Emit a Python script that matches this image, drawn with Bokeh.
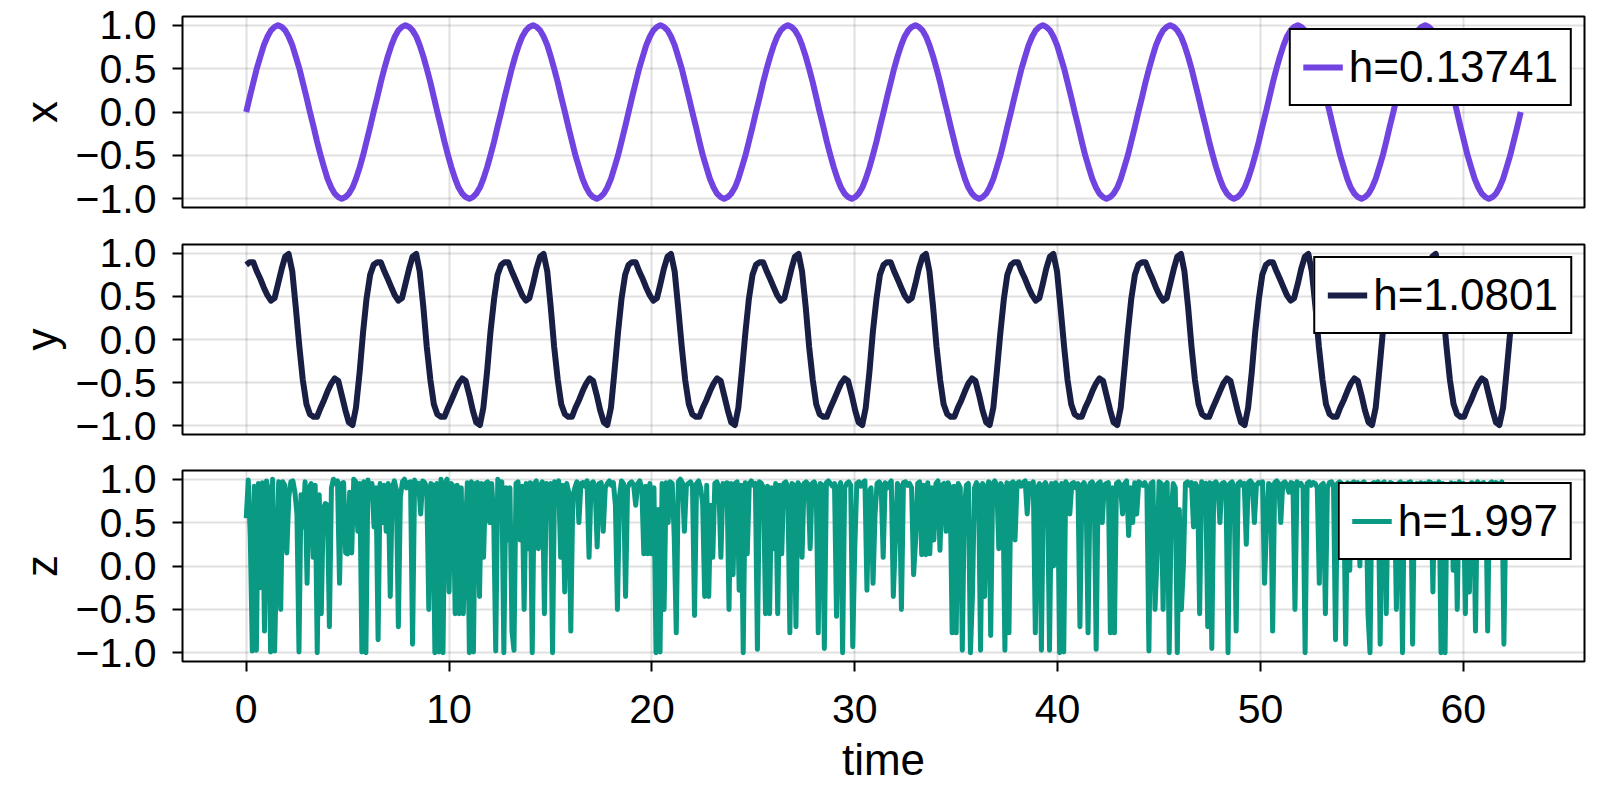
from bokeh.plotting import figure
from bokeh.layouts import column
from bokeh.models import Range1d, FixedTicker, CustomJSTickFormatter, Legend, LegendItem
from bokeh.embed import file_html
from bokeh.resources import INLINE

# ---------------- data ----------------
time = [
    0.0, 0.17, 0.35, 0.52, 0.7, 0.87, 1.05, 1.22, 1.4, 1.57, 1.75, 1.92, 2.09, 2.27, 2.44, 2.62, 2.79, 2.97,
    3.14, 3.32, 3.49, 3.67, 3.84, 4.01, 4.19, 4.36, 4.54, 4.71, 4.89, 5.06, 5.24, 5.41, 5.59, 5.76, 5.93, 6.11,
    6.28, 6.46, 6.63, 6.81, 6.98, 7.16, 7.33, 7.5, 7.68, 7.85, 8.03, 8.2, 8.38, 8.55, 8.73, 8.9, 9.08, 9.25,
    9.42, 9.6, 9.77, 9.95, 10.12, 10.3, 10.47, 10.65, 10.82, 11.0, 11.17, 11.34, 11.52, 11.69, 11.87, 12.04, 12.22, 12.39,
    12.57, 12.74, 12.92, 13.09, 13.26, 13.44, 13.61, 13.79, 13.96, 14.14, 14.31, 14.49, 14.66, 14.84, 15.01, 15.18, 15.36, 15.53,
    15.71, 15.88, 16.06, 16.23, 16.41, 16.58, 16.76, 16.93, 17.1, 17.28, 17.45, 17.63, 17.8, 17.98, 18.15, 18.33, 18.5, 18.68,
    18.85, 19.02, 19.2, 19.37, 19.55, 19.72, 19.9, 20.07, 20.25, 20.42, 20.59, 20.77, 20.94, 21.12, 21.29, 21.47, 21.64, 21.82,
    21.99, 22.17, 22.34, 22.51, 22.69, 22.86, 23.04, 23.21, 23.39, 23.56, 23.74, 23.91, 24.09, 24.26, 24.43, 24.61, 24.78, 24.96,
    25.13, 25.31, 25.48, 25.66, 25.83, 26.01, 26.18, 26.35, 26.53, 26.7, 26.88, 27.05, 27.23, 27.4, 27.58, 27.75, 27.93, 28.1,
    28.27, 28.45, 28.62, 28.8, 28.97, 29.15, 29.32, 29.5, 29.67, 29.85, 30.02, 30.19, 30.37, 30.54, 30.72, 30.89, 31.07, 31.24,
    31.42, 31.59, 31.77, 31.94, 32.11, 32.29, 32.46, 32.64, 32.81, 32.99, 33.16, 33.34, 33.51, 33.68, 33.86, 34.03, 34.21, 34.38,
    34.56, 34.73, 34.91, 35.08, 35.26, 35.43, 35.6, 35.78, 35.95, 36.13, 36.3, 36.48, 36.65, 36.83, 37.0, 37.18, 37.35, 37.52,
    37.7, 37.87, 38.05, 38.22, 38.4, 38.57, 38.75, 38.92, 39.1, 39.27, 39.44, 39.62, 39.79, 39.97, 40.14, 40.32, 40.49, 40.67,
    40.84, 41.02, 41.19, 41.36, 41.54, 41.71, 41.89, 42.06, 42.24, 42.41, 42.59, 42.76, 42.94, 43.11, 43.28, 43.46, 43.63, 43.81,
    43.98, 44.16, 44.33, 44.51, 44.68, 44.85, 45.03, 45.2, 45.38, 45.55, 45.73, 45.9, 46.08, 46.25, 46.43, 46.6, 46.77, 46.95,
    47.12, 47.3, 47.47, 47.65, 47.82, 48.0, 48.17, 48.35, 48.52, 48.69, 48.87, 49.04, 49.22, 49.39, 49.57, 49.74, 49.92, 50.09,
    50.27, 50.44, 50.61, 50.79, 50.96, 51.14, 51.31, 51.49, 51.66, 51.84, 52.01, 52.19, 52.36, 52.53, 52.71, 52.88, 53.06, 53.23,
    53.41, 53.58, 53.76, 53.93, 54.11, 54.28, 54.45, 54.63, 54.8, 54.98, 55.15, 55.33, 55.5, 55.68, 55.85, 56.03, 56.2, 56.37,
    56.55, 56.72, 56.9, 57.07, 57.25, 57.42, 57.6, 57.77, 57.94, 58.12, 58.29, 58.47, 58.64, 58.82, 58.99, 59.17, 59.34, 59.52,
    59.69, 59.86, 60.04, 60.21, 60.39, 60.56, 60.74, 60.91, 61.09, 61.26, 61.44, 61.61, 61.78, 61.96, 62.13, 62.31, 62.48, 62.66,
    62.83,
]

x_values = [
    0.0, 0.17, 0.34, 0.5, 0.64, 0.77, 0.87, 0.94, 0.98, 1.0, 0.98, 0.94, 0.87, 0.77, 0.64, 0.5, 0.34, 0.17,
    0.0, -0.17, -0.34, -0.5, -0.64, -0.77, -0.87, -0.94, -0.98, -1.0, -0.98, -0.94, -0.87, -0.77, -0.64, -0.5, -0.34, -0.17,
    0.0, 0.17, 0.34, 0.5, 0.64, 0.77, 0.87, 0.94, 0.98, 1.0, 0.98, 0.94, 0.87, 0.77, 0.64, 0.5, 0.34, 0.17,
    0.0, -0.17, -0.34, -0.5, -0.64, -0.77, -0.87, -0.94, -0.98, -1.0, -0.98, -0.94, -0.87, -0.77, -0.64, -0.5, -0.34, -0.17,
    0.0, 0.17, 0.34, 0.5, 0.64, 0.77, 0.87, 0.94, 0.98, 1.0, 0.98, 0.94, 0.87, 0.77, 0.64, 0.5, 0.34, 0.17,
    0.0, -0.17, -0.34, -0.5, -0.64, -0.77, -0.87, -0.94, -0.98, -1.0, -0.98, -0.94, -0.87, -0.77, -0.64, -0.5, -0.34, -0.17,
    0.0, 0.17, 0.34, 0.5, 0.64, 0.77, 0.87, 0.94, 0.98, 1.0, 0.98, 0.94, 0.87, 0.77, 0.64, 0.5, 0.34, 0.17,
    0.0, -0.17, -0.34, -0.5, -0.64, -0.77, -0.87, -0.94, -0.98, -1.0, -0.98, -0.94, -0.87, -0.77, -0.64, -0.5, -0.34, -0.17,
    0.0, 0.17, 0.34, 0.5, 0.64, 0.77, 0.87, 0.94, 0.98, 1.0, 0.98, 0.94, 0.87, 0.77, 0.64, 0.5, 0.34, 0.17,
    0.0, -0.17, -0.34, -0.5, -0.64, -0.77, -0.87, -0.94, -0.98, -1.0, -0.98, -0.94, -0.87, -0.77, -0.64, -0.5, -0.34, -0.17,
    0.0, 0.17, 0.34, 0.5, 0.64, 0.77, 0.87, 0.94, 0.98, 1.0, 0.98, 0.94, 0.87, 0.77, 0.64, 0.5, 0.34, 0.17,
    0.0, -0.17, -0.34, -0.5, -0.64, -0.77, -0.87, -0.94, -0.98, -1.0, -0.98, -0.94, -0.87, -0.77, -0.64, -0.5, -0.34, -0.17,
    0.0, 0.17, 0.34, 0.5, 0.64, 0.77, 0.87, 0.94, 0.98, 1.0, 0.98, 0.94, 0.87, 0.77, 0.64, 0.5, 0.34, 0.17,
    0.0, -0.17, -0.34, -0.5, -0.64, -0.77, -0.87, -0.94, -0.98, -1.0, -0.98, -0.94, -0.87, -0.77, -0.64, -0.5, -0.34, -0.17,
    0.0, 0.17, 0.34, 0.5, 0.64, 0.77, 0.87, 0.94, 0.98, 1.0, 0.98, 0.94, 0.87, 0.77, 0.64, 0.5, 0.34, 0.17,
    0.0, -0.17, -0.34, -0.5, -0.64, -0.77, -0.87, -0.94, -0.98, -1.0, -0.98, -0.94, -0.87, -0.77, -0.64, -0.5, -0.34, -0.17,
    0.0, 0.17, 0.34, 0.5, 0.64, 0.77, 0.87, 0.94, 0.98, 1.0, 0.98, 0.94, 0.87, 0.77, 0.64, 0.5, 0.34, 0.17,
    0.0, -0.17, -0.34, -0.5, -0.64, -0.77, -0.87, -0.94, -0.98, -1.0, -0.98, -0.94, -0.87, -0.77, -0.64, -0.5, -0.34, -0.17,
    0.0, 0.17, 0.34, 0.5, 0.64, 0.77, 0.87, 0.94, 0.98, 1.0, 0.98, 0.94, 0.87, 0.77, 0.64, 0.5, 0.34, 0.17,
    0.0, -0.17, -0.34, -0.5, -0.64, -0.77, -0.87, -0.94, -0.98, -1.0, -0.98, -0.94, -0.87, -0.77, -0.64, -0.5, -0.34, -0.17,
    0.0,
]

y_values = [
    0.865, 0.895, 0.895, 0.79, 0.7, 0.6, 0.51, 0.45, 0.48, 0.645, 0.82, 0.96, 0.99, 0.79, 0.38, -0.085, -0.47, -0.75,
    -0.865, -0.895, -0.895, -0.79, -0.7, -0.6, -0.51, -0.45, -0.48, -0.645, -0.82, -0.96, -0.99, -0.79, -0.38, 0.085, 0.47, 0.75,
    0.865, 0.895, 0.895, 0.79, 0.7, 0.6, 0.51, 0.45, 0.48, 0.645, 0.82, 0.96, 0.99, 0.79, 0.38, -0.085, -0.47, -0.75,
    -0.865, -0.895, -0.895, -0.79, -0.7, -0.6, -0.51, -0.45, -0.48, -0.645, -0.82, -0.96, -0.99, -0.79, -0.38, 0.085, 0.47, 0.75,
    0.865, 0.895, 0.895, 0.79, 0.7, 0.6, 0.51, 0.45, 0.48, 0.645, 0.82, 0.96, 0.99, 0.79, 0.38, -0.085, -0.47, -0.75,
    -0.865, -0.895, -0.895, -0.79, -0.7, -0.6, -0.51, -0.45, -0.48, -0.645, -0.82, -0.96, -0.99, -0.79, -0.38, 0.085, 0.47, 0.75,
    0.865, 0.895, 0.895, 0.79, 0.7, 0.6, 0.51, 0.45, 0.48, 0.645, 0.82, 0.96, 0.99, 0.79, 0.38, -0.085, -0.47, -0.75,
    -0.865, -0.895, -0.895, -0.79, -0.7, -0.6, -0.51, -0.45, -0.48, -0.645, -0.82, -0.96, -0.99, -0.79, -0.38, 0.085, 0.47, 0.75,
    0.865, 0.895, 0.895, 0.79, 0.7, 0.6, 0.51, 0.45, 0.48, 0.645, 0.82, 0.96, 0.99, 0.79, 0.38, -0.085, -0.47, -0.75,
    -0.865, -0.895, -0.895, -0.79, -0.7, -0.6, -0.51, -0.45, -0.48, -0.645, -0.82, -0.96, -0.99, -0.79, -0.38, 0.085, 0.47, 0.75,
    0.865, 0.895, 0.895, 0.79, 0.7, 0.6, 0.51, 0.45, 0.48, 0.645, 0.82, 0.96, 0.99, 0.79, 0.38, -0.085, -0.47, -0.75,
    -0.865, -0.895, -0.895, -0.79, -0.7, -0.6, -0.51, -0.45, -0.48, -0.645, -0.82, -0.96, -0.99, -0.79, -0.38, 0.085, 0.47, 0.75,
    0.865, 0.895, 0.895, 0.79, 0.7, 0.6, 0.51, 0.45, 0.48, 0.645, 0.82, 0.96, 0.99, 0.79, 0.38, -0.085, -0.47, -0.75,
    -0.865, -0.895, -0.895, -0.79, -0.7, -0.6, -0.51, -0.45, -0.48, -0.645, -0.82, -0.96, -0.99, -0.79, -0.38, 0.085, 0.47, 0.75,
    0.865, 0.895, 0.895, 0.79, 0.7, 0.6, 0.51, 0.45, 0.48, 0.645, 0.82, 0.96, 0.99, 0.79, 0.38, -0.085, -0.47, -0.75,
    -0.865, -0.895, -0.895, -0.79, -0.7, -0.6, -0.51, -0.45, -0.48, -0.645, -0.82, -0.96, -0.99, -0.79, -0.38, 0.085, 0.47, 0.75,
    0.865, 0.895, 0.895, 0.79, 0.7, 0.6, 0.51, 0.45, 0.48, 0.645, 0.82, 0.96, 0.99, 0.79, 0.38, -0.085, -0.47, -0.75,
    -0.865, -0.895, -0.895, -0.79, -0.7, -0.6, -0.51, -0.45, -0.48, -0.645, -0.82, -0.96, -0.99, -0.79, -0.38, 0.085, 0.47, 0.75,
    0.865, 0.895, 0.895, 0.79, 0.7, 0.6, 0.51, 0.45, 0.48, 0.645, 0.82, 0.96, 0.99, 0.79, 0.38, -0.085, -0.47, -0.75,
    -0.865, -0.895, -0.895, -0.79, -0.7, -0.6, -0.51, -0.45, -0.48, -0.645, -0.82, -0.96, -0.99, -0.79, -0.38, 0.085, 0.47, 0.75,
    0.865,
]

z_time = [
    0.0, 0.1, 0.2, 0.3, 0.4, 0.5, 0.6, 0.7, 0.8, 0.9, 1.0, 1.1, 1.2, 1.3, 1.4, 1.5, 1.6, 1.7, 1.8, 1.9,
    2.0, 2.1, 2.2, 2.3, 2.4, 2.5, 2.6, 2.7, 2.8, 2.9, 3.0, 3.1, 3.2, 3.3, 3.4, 3.5, 3.6, 3.7, 3.8, 3.9,
    4.0, 4.1, 4.2, 4.3, 4.4, 4.5, 4.6, 4.7, 4.8, 4.9, 5.0, 5.1, 5.2, 5.3, 5.4, 5.5, 5.6, 5.7, 5.8, 5.9,
    6.0, 6.1, 6.2, 6.3, 6.4, 6.5, 6.6, 6.7, 6.8, 6.9, 7.0, 7.1, 7.2, 7.3, 7.4, 7.5, 7.6, 7.7, 7.8, 7.9,
    8.0, 8.1, 8.2, 8.3, 8.4, 8.5, 8.6, 8.7, 8.8, 8.9, 9.0, 9.1, 9.2, 9.3, 9.4, 9.5, 9.6, 9.7, 9.8, 9.9,
    10.0, 10.1, 10.2, 10.3, 10.4, 10.5, 10.6, 10.7, 10.8, 10.9, 11.0, 11.1, 11.2, 11.3, 11.4, 11.5, 11.6, 11.7, 11.8, 11.9,
    12.0, 12.1, 12.2, 12.3, 12.4, 12.5, 12.6, 12.7, 12.8, 12.9, 13.0, 13.1, 13.2, 13.3, 13.4, 13.5, 13.6, 13.7, 13.8, 13.9,
    14.0, 14.1, 14.2, 14.3, 14.4, 14.5, 14.6, 14.7, 14.8, 14.9, 15.0, 15.1, 15.2, 15.3, 15.4, 15.5, 15.6, 15.7, 15.8, 15.9,
    16.0, 16.1, 16.2, 16.3, 16.4, 16.5, 16.6, 16.7, 16.8, 16.9, 17.0, 17.1, 17.2, 17.3, 17.4, 17.5, 17.6, 17.7, 17.8, 17.9,
    18.0, 18.1, 18.2, 18.3, 18.4, 18.5, 18.6, 18.7, 18.8, 18.9, 19.0, 19.1, 19.2, 19.3, 19.4, 19.5, 19.6, 19.7, 19.8, 19.9,
    20.0, 20.1, 20.2, 20.3, 20.4, 20.5, 20.6, 20.7, 20.8, 20.9, 21.0, 21.1, 21.2, 21.3, 21.4, 21.5, 21.6, 21.7, 21.8, 21.9,
    22.0, 22.1, 22.2, 22.3, 22.4, 22.5, 22.6, 22.7, 22.8, 22.9, 23.0, 23.1, 23.2, 23.3, 23.4, 23.5, 23.6, 23.7, 23.8, 23.9,
    24.0, 24.1, 24.2, 24.3, 24.4, 24.5, 24.6, 24.7, 24.8, 24.9, 25.0, 25.1, 25.2, 25.3, 25.4, 25.5, 25.6, 25.7, 25.8, 25.9,
    26.0, 26.1, 26.2, 26.3, 26.4, 26.5, 26.6, 26.7, 26.8, 26.9, 27.0, 27.1, 27.2, 27.3, 27.4, 27.5, 27.6, 27.7, 27.8, 27.9,
    28.0, 28.1, 28.2, 28.3, 28.4, 28.5, 28.6, 28.7, 28.8, 28.9, 29.0, 29.1, 29.2, 29.3, 29.4, 29.5, 29.6, 29.7, 29.8, 29.9,
    30.0, 30.1, 30.2, 30.3, 30.4, 30.5, 30.6, 30.7, 30.8, 30.9, 31.0, 31.1, 31.2, 31.3, 31.4, 31.5, 31.6, 31.7, 31.8, 31.9,
    32.0, 32.1, 32.2, 32.3, 32.4, 32.5, 32.6, 32.7, 32.8, 32.9, 33.0, 33.1, 33.2, 33.3, 33.4, 33.5, 33.6, 33.7, 33.8, 33.9,
    34.0, 34.1, 34.2, 34.3, 34.4, 34.5, 34.6, 34.7, 34.8, 34.9, 35.0, 35.1, 35.2, 35.3, 35.4, 35.5, 35.6, 35.7, 35.8, 35.9,
    36.0, 36.1, 36.2, 36.3, 36.4, 36.5, 36.6, 36.7, 36.8, 36.9, 37.0, 37.1, 37.2, 37.3, 37.4, 37.5, 37.6, 37.7, 37.8, 37.9,
    38.0, 38.1, 38.2, 38.3, 38.4, 38.5, 38.6, 38.7, 38.8, 38.9, 39.0, 39.1, 39.2, 39.3, 39.4, 39.5, 39.6, 39.7, 39.8, 39.9,
    40.0, 40.1, 40.2, 40.3, 40.4, 40.5, 40.6, 40.7, 40.8, 40.9, 41.0, 41.1, 41.2, 41.3, 41.4, 41.5, 41.6, 41.7, 41.8, 41.9,
    42.0, 42.1, 42.2, 42.3, 42.4, 42.5, 42.6, 42.7, 42.8, 42.9, 43.0, 43.1, 43.2, 43.3, 43.4, 43.5, 43.6, 43.7, 43.8, 43.9,
    44.0, 44.1, 44.2, 44.3, 44.4, 44.5, 44.6, 44.7, 44.8, 44.9, 45.0, 45.1, 45.2, 45.3, 45.4, 45.5, 45.6, 45.7, 45.8, 45.9,
    46.0, 46.1, 46.2, 46.3, 46.4, 46.5, 46.6, 46.7, 46.8, 46.9, 47.0, 47.1, 47.2, 47.3, 47.4, 47.5, 47.6, 47.7, 47.8, 47.9,
    48.0, 48.1, 48.2, 48.3, 48.4, 48.5, 48.6, 48.7, 48.8, 48.9, 49.0, 49.1, 49.2, 49.3, 49.4, 49.5, 49.6, 49.7, 49.8, 49.9,
    50.0, 50.1, 50.2, 50.3, 50.4, 50.5, 50.6, 50.7, 50.8, 50.9, 51.0, 51.1, 51.2, 51.3, 51.4, 51.5, 51.6, 51.7, 51.8, 51.9,
    52.0, 52.1, 52.2, 52.3, 52.4, 52.5, 52.6, 52.7, 52.8, 52.9, 53.0, 53.1, 53.2, 53.3, 53.4, 53.5, 53.6, 53.7, 53.8, 53.9,
    54.0, 54.1, 54.2, 54.3, 54.4, 54.5, 54.6, 54.7, 54.8, 54.9, 55.0, 55.1, 55.2, 55.3, 55.4, 55.5, 55.6, 55.7, 55.8, 55.9,
    56.0, 56.1, 56.2, 56.3, 56.4, 56.5, 56.6, 56.7, 56.8, 56.9, 57.0, 57.1, 57.2, 57.3, 57.4, 57.5, 57.6, 57.7, 57.8, 57.9,
    58.0, 58.1, 58.2, 58.3, 58.4, 58.5, 58.6, 58.7, 58.8, 58.9, 59.0, 59.1, 59.2, 59.3, 59.4, 59.5, 59.6, 59.7, 59.8, 59.9,
    60.0, 60.1, 60.2, 60.3, 60.4, 60.5, 60.6, 60.7, 60.8, 60.9, 61.0, 61.1, 61.2, 61.3, 61.4, 61.5, 61.6, 61.7, 61.8, 61.9,
    62.0, 62.1,
]

z_values = [
    0.55, 0.99, 0.33, -0.98, 0.92, -0.97, 0.95, -0.25, 0.96, -0.75,
    0.98, 0.85, -0.99, 1.0, -0.98, 0.1, 0.97, -0.5, 0.97, 0.93,
    0.15, 0.8, 0.97, 0.98, 0.85, 0.6, -0.99, 0.82, 0.45, 0.97,
    -0.2, 0.9, 0.95, 0.1, 0.93, -1.0, 0.82, -0.55, 0.66, 0.72,
    0.7, -0.7, 0.9, 1.0, 0.95, 0.98, -0.2, 0.95, 0.96, 0.15,
    0.14, 0.85, 0.15, 1.0, 0.97, 0.4, 0.95, -0.99, 0.97, -1.0,
    0.99, 0.8, 0.95, 0.45, 0.9, -0.85, 0.95, 0.5, 0.93, 0.4,
    0.95, -0.35, 0.9, 0.98, 0.88, -0.7, 0.8, 0.97, 1.0, 0.9,
    0.96, 0.97, -0.9, 0.99, 0.93, 0.95, 0.6, 0.98, 0.96, 0.9,
    -0.5, 0.95, 0.93, -1.0, 0.95, -0.99, 1.0, -1.0, 0.95, 1.0,
    -0.3, 0.95, 0.92, -0.55, 0.93, -0.55, 0.9, -0.55, 0.35, 0.96,
    -1.0, 0.97, -0.99, 0.95, 0.96, -0.35, 0.95, 0.1, 0.95, 0.97,
    0.5, 0.95, 0.55, -0.98, 1.0, 0.93, 0.97, -1.0, 0.9, 0.3,
    0.9, -0.75, -0.97, 0.95, 0.97, 0.3, 0.92, -0.5, 0.95, 0.2,
    0.96, -1.0, 0.95, 0.98, 0.2, 0.93, 0.97, -0.55, 0.95, 0.9,
    0.95, -1.0, 0.97, 0.9, 0.98, 0.1, 0.93, -0.3, 0.95, 0.85,
    -0.75, 0.8, 0.9, 0.97, 0.5, 0.95, 0.96, 0.92, 0.98, 0.1,
    0.95, 0.97, 0.92, 0.22, 0.95, 0.96, 0.4, 0.9, 0.95, 0.98,
    0.93, 0.96, 0.7, -0.5, 0.8, 0.98, 0.95, -0.35, 0.9, 0.95,
    0.97, 0.93, 0.7, 0.95, 0.98, 0.9, 0.14, 0.92, 0.14, 0.95,
    0.14, 0.9, -1.0, 0.65, -0.99, 0.95, -0.5, 0.96, 0.5, 0.97,
    0.95, 0.33, -0.77, 0.97, 1.0, 0.96, 0.4, 0.93, 0.95, 0.97,
    0.92, -0.57, 0.95, 0.98, 0.9, 0.72, -0.35, 0.93, -0.35, 0.7,
    0.1, 0.95, 0.97, 0.9, 0.1, 0.95, 0.7, 0.96, -0.5, 0.95,
    -0.1, 0.95, 0.97, -0.28, 0.93, -1.0, 0.96, 0.14, 0.95, 0.98,
    0.93, 0.95, -0.96, 0.97, 0.95, 0.9, -0.55, 0.92, -0.55, 0.9,
    0.2, 0.95, -0.55, 0.93, 0.14, 0.95, 0.97, 0.9, -0.77, 0.95,
    0.93, -0.7, 0.96, 0.92, 0.1, 0.95, 0.97, 0.94, 0.2, 0.95,
    0.97, 0.9, -0.77, 0.95, 0.93, -0.95, 0.96, 0.98, 0.95, 0.92,
    0.95, -0.58, 0.9, 0.96, -1.0, 0.9, 0.95, 0.97, 0.93, -0.93,
    0.2, 0.95, 0.97, 0.92, 0.96, 0.98, -0.28, 0.85, 0.9, -0.2,
    0.6, 0.95, 0.97, 0.93, 0.1, 0.96, 0.9, 0.95, 0.98, -0.35,
    0.3, 0.95, 0.92, -0.5, 0.96, 0.97, 0.93, 0.95, 0.9, -0.1,
    0.3, 0.95, 0.97, 0.13, 0.93, 0.13, 0.96, 0.14, 0.9, 0.3,
    0.95, 0.98, 0.18, 0.93, 0.95, 0.4, 0.96, 0.9, -0.77, 0.92,
    -0.77, 0.95, 0.9, -0.97, 0.65, 0.93, 0.95, -1.0, -0.35, 0.9,
    0.96, 0.92, -0.97, 0.95, -0.35, 0.9, 0.97, -0.8, 0.95, 0.98,
    0.93, 0.2, 0.95, 0.9, -0.97, 0.96, -0.77, 0.95, 0.97, 0.3,
    0.95, 0.97, 0.92, 0.96, 0.98, 0.6, 0.95, 0.93, 0.97, -0.77,
    0.9, 0.95, -0.97, 0.93, 0.96, 0.9, -0.97, 0.95, 0.0, 0.96,
    0.92, -1.0, 0.95, -0.99, 0.97, 0.93, 0.6, 0.95, 0.96, 0.9,
    0.95, -0.7, 0.93, 0.96, 0.9, -0.77, 0.95, 0.97, 0.92, -0.96,
    0.95, 0.97, 0.5, 0.93, 0.95, 0.96, -0.77, 0.9, -0.77, 0.95,
    0.97, 0.93, 0.6, 0.95, 0.98, 0.35, 0.9, 0.5, 0.96, 0.6,
    0.97, 0.95, 0.93, 0.96, 0.9, -0.98, 0.95, 0.97, -0.5, 0.1,
    0.97, 0.95, -0.5, 0.93, 0.96, -1.0, 0.6, 0.95, 0.9, -1.0,
    0.65, -0.5, 0.0, 0.95, 0.97, 0.93, 0.96, 0.45, 0.95, 0.9,
    -0.55, 0.97, 0.93, 0.95, -0.7, 0.96, -0.95, 0.95, 0.97, 0.92,
    0.5, 0.95, 0.96, 0.93, -1.0, 0.95, 0.97, 0.9, -0.75, 0.95,
    0.97, 0.93, 0.95, 0.25, 0.96, 0.98, 0.95, 0.5, 0.93, 0.96,
    0.95, 0.97, -0.2, 0.5, 0.95, 0.93, -0.75, 0.96, 0.98, 0.95,
    0.5, 0.95, 0.97, 0.93, 0.85, 0.96, 0.95, -0.5, 0.97, 0.93,
    0.95, 0.9, -1.0, 0.95, 0.97, 0.93, 0.96, 0.95, 0.9, -0.2,
    0.93, 0.95, -0.55, 0.9, 0.96, 0.97, 0.93, -0.85, 0.95, 0.97,
    0.95, 0.93, -0.9, 0.96, -0.05, 0.95, 0.97, 0.93, 0.96, 0.0,
    0.95, 0.97, 0.93, -0.55, -1.0, 0.95, 0.96, 0.93, 0.97, -0.9,
    0.95, 0.97, -0.55, 0.93, 0.96, 0.95, 0.9, -0.5, 0.95, 0.97,
    -1.0, 0.95, 0.93, 0.96, 0.97, -0.9, 0.9, 0.95, 0.5, 0.96,
    0.93, 0.95, 0.5, 0.97, 0.96, -0.3, 0.95, 0.93, 0.97, -1.0,
    0.95, -1.0, 0.93, 0.2, 0.96, -0.05, 0.95, -0.5, 0.97, 0.93,
    0.95, -0.55, 0.93, -0.3, 0.96, 0.95, -0.75, 0.97, 0.93, 0.95,
    0.96, 0.93, -0.75, 0.95, 0.97, 0.93, 0.96, 0.95, 0.9, 0.97,
    -0.9, 0.7,
]

x_ticks = [0, 10, 20, 30, 40, 50, 60]
y_ticks = [-1.0, -0.5, 0.0, 0.5, 1.0]
axis_names = ["x", "y", "z"]
legend_labels = ["h=0.13741", "h=1.0801", "h=1.997"]
line_colors = ["#7143E0", "#191E44", "#0A9A84"]
time_label = "time"

# ---------------- styling ----------------
FONT = "Liberation Sans"
TICK_SIZE = "41px"
LABEL_SIZE = "44px"
WIDTH = 1600


def make_panel(t, v, color, ylabel, label, height, top, bottom, show_x, lw):
    p = figure(width=WIDTH, height=height, output_backend="svg", toolbar_location=None,
               x_range=Range1d(-3.1416, 65.9734), y_range=Range1d(-1.1, 1.1),
               min_border_left=182, min_border_right=16,
               min_border_top=top, min_border_bottom=bottom)
    p.background_fill_color = "white"
    p.border_fill_color = "white"
    p.outline_line_color = "black"
    p.outline_line_width = 2
    p.outline_line_alpha = 1.0

    r = p.line(t, v, line_color=color, line_width=lw, line_join="round")

    yax = p.yaxis[0]
    yax.ticker = FixedTicker(ticks=y_ticks)
    yax.formatter = CustomJSTickFormatter(code="return tick.toFixed(1).replace('-', '\\u2212');")
    yax.axis_label = ylabel
    yax.axis_label_text_font = FONT
    yax.axis_label_text_font_size = LABEL_SIZE
    yax.axis_label_text_font_style = "normal"
    yax.axis_label_text_color = "black"
    yax.axis_label_standoff = 7
    yax.major_label_text_font = FONT
    yax.major_label_text_font_size = TICK_SIZE
    yax.major_label_text_color = "black"
    yax.major_label_standoff = 16
    yax.major_tick_out = 10
    yax.major_tick_in = 0
    yax.major_tick_line_width = 2
    yax.major_tick_line_color = "black"
    yax.minor_tick_line_color = None
    yax.axis_line_color = None

    xax = p.xaxis[0]
    xax.ticker = FixedTicker(ticks=x_ticks)
    if show_x:
        xax.axis_label = time_label
        xax.axis_label_text_font = FONT
        xax.axis_label_text_font_size = LABEL_SIZE
        xax.axis_label_text_font_style = "normal"
        xax.axis_label_text_color = "black"
        xax.axis_label_standoff = 9
        xax.major_label_text_font = FONT
        xax.major_label_text_font_size = TICK_SIZE
        xax.major_label_text_color = "black"
        xax.major_label_standoff = 23
        xax.major_tick_out = 10
        xax.major_tick_in = 0
        xax.major_tick_line_width = 2
        xax.major_tick_line_color = "black"
        xax.minor_tick_line_color = None
        xax.axis_line_color = None
    else:
        xax.visible = False

    p.xgrid[0].ticker = FixedTicker(ticks=x_ticks)
    p.ygrid[0].ticker = FixedTicker(ticks=y_ticks)
    for g in (p.xgrid[0], p.ygrid[0]):
        g.grid_line_color = "black"
        g.grid_line_alpha = 0.12
        g.grid_line_width = 2

    legend = Legend(items=[LegendItem(label=label, renderers=[r])], location="top_right")
    legend.label_text_font = FONT
    legend.label_text_font_size = LABEL_SIZE
    legend.label_text_color = "black"
    legend.border_line_color = "black"
    legend.border_line_alpha = 1.0
    legend.border_line_width = 2
    legend.background_fill_color = "white"
    legend.background_fill_alpha = 1.0
    legend.padding = 12
    legend.margin = 12
    legend.glyph_width = 40
    legend.label_standoff = 6
    legend.spacing = 0
    p.add_layout(legend)
    return p


p1 = make_panel(time, x_values, line_colors[0], axis_names[0], legend_labels[0], 225, 16, 18, False, 6)
p2 = make_panel(time, y_values, line_colors[1], axis_names[1], legend_labels[1], 227, 19, 18, False, 6)
p3 = make_panel(z_time, z_values, line_colors[2], axis_names[2], legend_labels[2], 348, 18, 139, True, 5)

layout = column(p1, p2, p3, spacing=0)

open("out.html", "w").write(file_html(layout, INLINE))
